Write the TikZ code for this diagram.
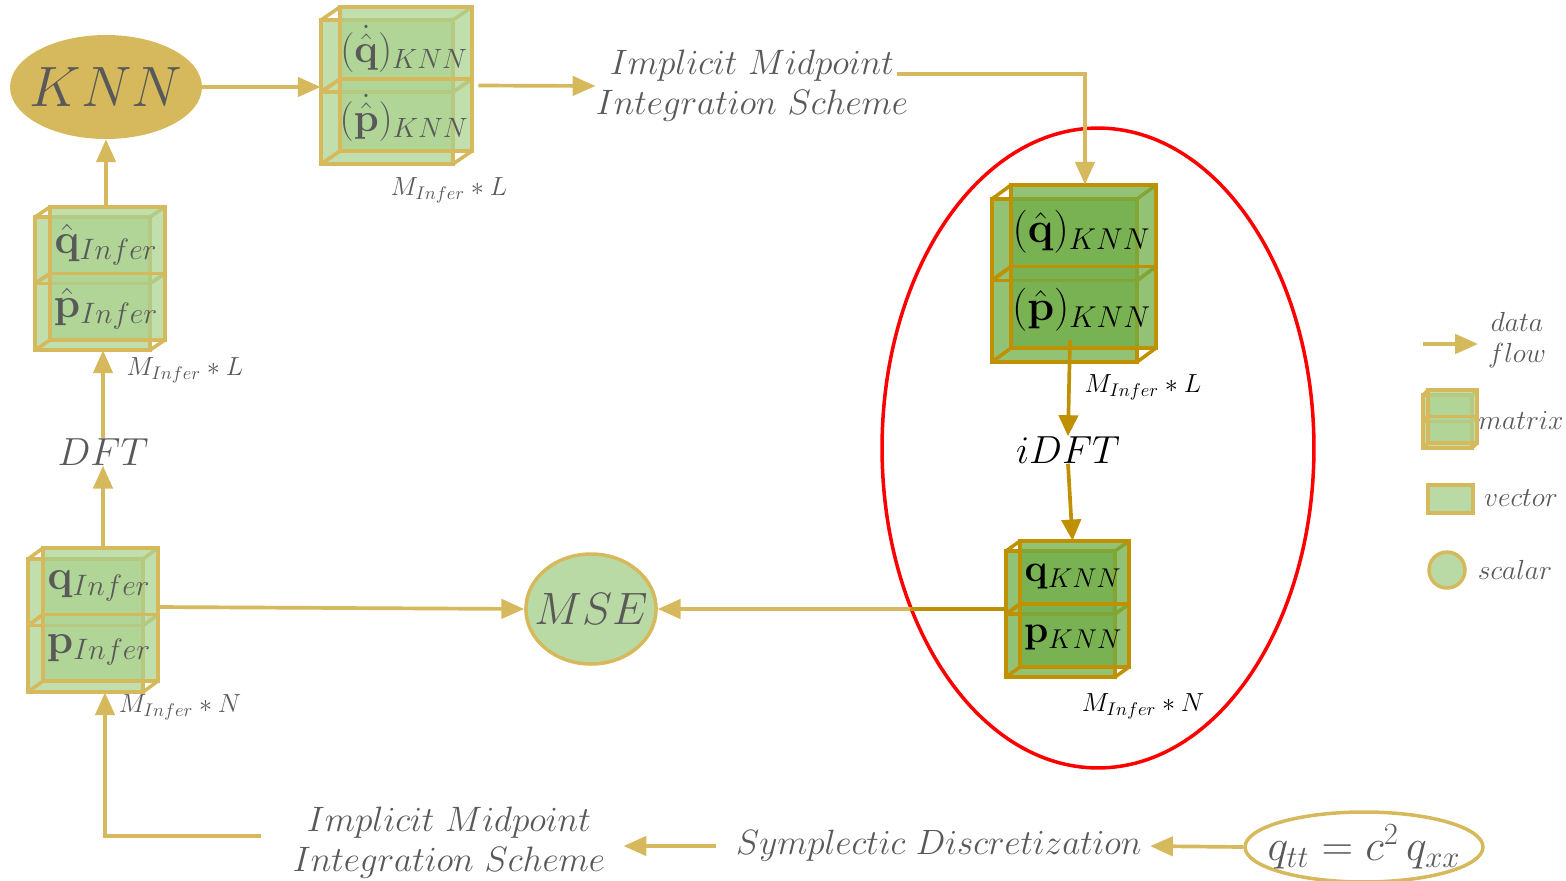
\documentclass[tikz,border=0pt]{standalone}
\usepackage{fix-cm}
\usepackage{amsmath}
\usetikzlibrary{arrows.meta,fit,shapes.geometric}

\definecolor{gold}{RGB}{214,185,92}
\definecolor{darkgold}{RGB}{191,144,0}
\definecolor{lgreen}{RGB}{169,209,142}
\definecolor{mgreen}{RGB}{112,173,71}
\definecolor{txtgray}{RGB}{89,89,89}

\tikzset{
  flow/.style={draw=gold, line width=2.1pt, -{Triangle[length=13pt,width=11pt]}},
  dflow/.style={draw=darkgold, line width=2.1pt, -{Triangle[length=12pt,width=11pt]}},
  lab/.style={text=txtgray, inner sep=0pt},
  goldcube/.style={cubefill/.style={fill=lgreen, fill opacity=0.72},
                   cubeline/.style={draw=gold, line width=2pt},
                   mlab/.style={text=txtgray, inner sep=0pt}},
  darkcube/.style={cubefill/.style={fill=mgreen, fill opacity=0.75},
                   cubeline/.style={draw=darkgold, line width=2pt},
                   mlab/.style={text=black, inner sep=0pt}},
}

% one cuboid: front face x y w h, depth offset dx dy
\newcommand{\cuboid}[6]{%
  \filldraw[cubefill,cubeline] ({#1},{#2}) rectangle ({#1+#3},{#2+#4});
  \draw[cubeline] ({#1},{#2}) -- ++(#5,#6) ({#1+#3},{#2}) -- ++(#5,#6)
                  ({#1},{#2+#4}) -- ++(#5,#6) ({#1+#3},{#2+#4}) -- ++(#5,#6);
  \filldraw[cubefill,cubeline] ({#1+#5},{#2+#6}) rectangle ({#1+#3+#5},{#2+#4+#6});
}

% two stacked cuboids with a label in each: name x y w h dx dy upper lower
\newcommand{\mtx}[9]{%
  \cuboid{#2}{#3}{#4}{#5}{#6}{#7}
  \cuboid{#2}{#3+#5}{#4}{#5}{#6}{#7}
  \node[fit={({#2},{#3+#7}) ({#2+#4+#6},{#3+2*#5})}, inner sep=0pt] (#1) {};
  \node[mlab] (#1-t) at ({#2+#4/2+#6*0.9},{#3+#5/2+#7*0.55}) {#8};
  \node[mlab] (#1-b) at ({#2+#4/2+#6*0.9},{#3+#5*1.5+#7*0.8}) {#9};
}

\begin{document}
\begin{tikzpicture}[x=0.02cm, y=-0.02cm]
\useasboundingbox (0,0) rectangle (1566,880);

% region of the KNN reconstruction
\node[draw=red, line width=2pt, ellipse, minimum width=8.64cm, minimum height=12.8cm] (zone) at (1098,448) {};

% matrices
\begin{scope}[goldcube]
  \mtx{tm}{321}{20}{132}{72}{19}{-13}
      {\fontsize{22.7}{26}\selectfont$(\dot{\hat{\mathbf{q}}})_{KNN}$}
      {\fontsize{22.7}{26}\selectfont$(\dot{\hat{\mathbf{p}}})_{KNN}$}
  \mtx{lt}{35}{217}{115}{66.5}{15}{-10}
      {\fontsize{24}{28}\selectfont$\hat{\mathbf{q}}_{Infer}$}
      {\fontsize{24}{28}\selectfont$\hat{\mathbf{p}}_{Infer}$}
  \mtx{lb}{28}{559}{115}{66.5}{15}{-11}
      {\fontsize{24}{28}\selectfont$\mathbf{q}_{Infer}$}
      {\fontsize{24}{28}\selectfont$\mathbf{p}_{Infer}$}
  \mtx{lgm}{1423}{395}{49}{26.5}{5}{-5}{}{}
\end{scope}
\begin{scope}[darkcube]
  \mtx{rt}{992}{199}{145}{81.5}{19}{-14}
      {\fontsize{24.5}{28}\selectfont$(\hat{\mathbf{q}})_{KNN}$}
      {\fontsize{24.5}{28}\selectfont$(\hat{\mathbf{p}})_{KNN}$}
  \mtx{rb}{1006}{551}{109}{63}{14}{-10}
      {\fontsize{22.1}{26}\selectfont$\mathbf{q}_{KNN}$}
      {\fontsize{22.1}{26}\selectfont$\mathbf{p}_{KNN}$}
\end{scope}

% size labels
\node[lab, font=\fontsize{14.9}{16}\selectfont] (tmsz) at (449,190) {$M_{Infer}*L$};
\node[lab, font=\fontsize{14.9}{16}\selectfont] (ltsz) at (185,370) {$M_{Infer}*L$};
\node[lab, font=\fontsize{14.9}{16}\selectfont] (lbsz) at (180,707) {$M_{Infer}*N$};
\node[inner sep=0pt, font=\fontsize{14.9}{16}\selectfont] (rtsz) at (1143,387) {$M_{Infer}*L$};
\node[inner sep=0pt, font=\fontsize{14.9}{16}\selectfont] (rbsz) at (1143,706) {$M_{Infer}*N$};

% operations and schemes
\node[ellipse, fill=gold, minimum width=3.84cm, minimum height=2.08cm, inner xsep=-5pt, inner ysep=0pt,
      text=txtgray, font=\fontsize{32.4}{36}\selectfont] (knn) at (106,87) {$KNN$};
\node[ellipse, draw=gold, line width=2pt, fill=lgreen!80!white, minimum width=2.6cm,
      minimum height=2.2cm, inner xsep=-6pt, inner ysep=0pt,
      text=txtgray, font=\fontsize{25.8}{28}\selectfont] (mse) at (591,609) {$MSE$};
\node[ellipse, draw=gold, line width=2pt, minimum width=4.76cm, minimum height=1.4cm,
      inner xsep=-7pt, inner ysep=0pt,
      text=txtgray, font=\fontsize{25}{28}\selectfont] (eq) at (1364,847) {$q_{tt} = c^2\,q_{xx}$};
\node[lab, font=\fontsize{22.3}{26}\selectfont] (dft) at (103,452) {$DFT$};
\node[inner sep=0pt, font=\fontsize{22.3}{26}\selectfont] (idft) at (1068,450) {$iDFT$};
\node[lab, align=center, font=\fontsize{20.1}{22.7}\selectfont] (im1) at (752,86)
      {$Implicit\ Midpoint$\\$Integration\ Scheme$};
\node[lab, align=center, font=\fontsize{20.1}{22.7}\selectfont] (im2) at (449,843)
      {$Implicit\ Midpoint$\\$Integration\ Scheme$};
\node[lab, font=\fontsize{20}{24}\selectfont] (sym) at (939,846) {$Symplectic\ Discretization$};

% data flow
\draw[flow] (knn.east) -- (knn.east -| tm.west);
\draw[flow] ([xshift=0.12cm]tm.east) -- (im1.west);
\coordinate (im1out) at (897,74);
\draw[flow] (im1out) -| ([xshift=0.22cm]rt.north);
\draw[flow] (knn.south |- lt.north) -- (knn.south);
\draw[flow] (dft.north) -- (dft.north |- lt.south);
\draw[flow] (dft.south |- lb.north) -- (dft.south);
\draw[flow] ([yshift=0.26cm]lb.east) -- (mse.west);
\draw[flow] (rb.west) -- (mse.east);
\coordinate (zonecut) at (910,609);
\draw[darkgold, line width=2.1pt] (rb.west) -- (zonecut);
\coordinate (rtout) at (1070,340);
\draw[dflow] (rtout) -- (idft.north);
\draw[dflow] (idft.south) -- ([xshift=0.1cm]rb.north);
\draw[flow, shorten >=0.16cm] (eq.west) -- (sym.east);
\draw[flow, shorten <=0.4cm, shorten >=0.36cm] (sym.west) -- (sym.west -| im2.east);
\draw[flow] ([xshift=-0.62cm,yshift=0.14cm]im2.west) -| ([xshift=0.04cm]dft.south |- lb.south);

% legend
\coordinate (lga) at (1423,344);
\coordinate (lgb) at (1478,344);
\draw[flow] (lga) -- (lgb);
\node[lab, align=center, font=\fontsize{15.7}{17.5}\selectfont] (lgflow) at (1517,340) {$data$\\$flow$};
\node[lab, font=\fontsize{15.7}{17}\selectfont] (lgmat) at (1521,420) {$matrix$};
\node[draw=gold, line width=2pt, fill=lgreen!80!white, minimum width=0.9cm, minimum height=0.56cm,
      inner sep=0pt] (lgvec) at (1450.5,499) {};
\node[lab, font=\fontsize{15.7}{17}\selectfont] (lgvect) at (1521,498) {$vector$};
\node[circle, draw=gold, line width=2pt, fill=lgreen!80!white, minimum size=0.72cm,
      inner sep=0pt] (lgsca) at (1447,570) {};
\node[lab, font=\fontsize{15.7}{17}\selectfont] (lgscat) at (1515,570) {$scalar$};
\end{tikzpicture}
\end{document}
